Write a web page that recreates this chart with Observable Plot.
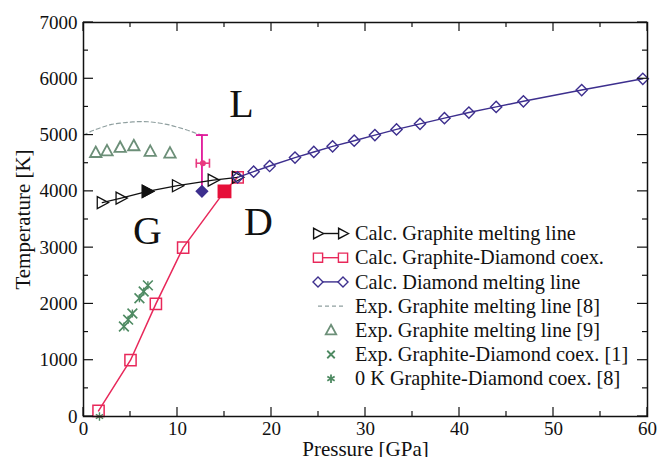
<!DOCTYPE html>
<html><head><meta charset="utf-8">
<script src="https://cdn.jsdelivr.net/npm/d3@7"></script>
<script src="https://cdn.jsdelivr.net/npm/@observablehq/plot@0.6"></script>
<style>
html,body{margin:0;padding:0;background:#fff;}
#wrap{position:relative;width:668px;height:457px;}
#wrap svg{display:block;}
#legend{position:absolute;left:0;top:0;pointer-events:none;}
</style></head><body><div id="wrap"></div>
<script>
// ---- data ----
const graphiteP = [2.0, 4.0, 6.8, 10.0, 13.8, 16.4];
const graphiteT = [3800, 3880, 4000, 4100, 4200, 4250];
const graphiteFilledP = [6.8];
const graphiteFilledT = [4000];

const coexP = [1.6, 5.0, 7.7, 10.6, 15.0, 16.4];
const coexT = [100, 1000, 2000, 3000, 4000, 4250];
const coexFilledP = [15.0];
const coexFilledT = [4000];

const diamondP = [16.4, 18.1, 19.8, 22.5, 24.5, 26.5, 28.8, 31.0, 33.3, 35.8, 38.4, 41.0, 43.9, 46.8, 53.0, 59.5];
const diamondT = [4250, 4350, 4450, 4600, 4700, 4800, 4900, 5000, 5100, 5200, 5300, 5400, 5500, 5600, 5800, 6000];
const diamondFilledP = [12.6];
const diamondFilledT = [4000];
const diamondErrLo = [3900];
const diamondErrHi = [5000];

const expMelt8P = [0, 1, 2, 3, 4, 5, 6, 7, 8, 9, 10, 11, 12, 12.6];
const expMelt8T = [5000, 5080, 5140, 5190, 5215, 5230, 5240, 5235, 5215, 5185, 5140, 5090, 5030, 5000];

const expMelt9P = [1.3, 2.5, 3.9, 5.35, 7.1, 9.2];
const expMelt9T = [4690, 4720, 4780, 4810, 4710, 4680];

const expPointP = [12.7];
const expPointT = [4500];
const expPointPErr = [0.7];

const expCoex1P = [4.3, 4.75, 5.2, 5.95, 6.4, 6.85];
const expCoex1T = [1600, 1720, 1830, 2100, 2220, 2330];

const zeroKCoexP = [1.7];
const zeroKCoexT = [0];

const xTicks = [0, 10, 20, 30, 40, 50, 60];
const yTicks = [0, 1000, 2000, 3000, 4000, 5000, 6000, 7000];
const xMinor = [5, 15, 25, 35, 45, 55];
const yMinor = [500, 1500, 2500, 3500, 4500, 5500, 6500];

const xTitle = "Pressure [GPa]";
const yTitle = "Temperature [K]";

const regionNames = ["L", "G", "D"];
const regionP = [16.8, 6.8, 18.6];
const regionT = [5540, 3290, 3450];

const legendLabels = [
  "Calc. Graphite melting line",
  "Calc. Graphite-Diamond coex.",
  "Calc. Diamond melting line",
  "Exp. Graphite melting line [8]",
  "Exp. Graphite melting line [9]",
  "Exp. Graphite-Diamond coex. [1]",
  "0 K Graphite-Diamond coex. [8]"
];

// ---- styles ----
const C_BLACK = "#111";
const C_RED = "#e8285a";
const C_RED_FILL = "#e6103a";
const C_PURPLE = "#3d2f8e";
const C_DASH = "#90a0a0";
const C_TRI = "#6c8f78";
const C_GREEN = "#4e8a62";
const C_MAG = "#e0189a";
const C_PINK = "#e83a80";
const FONT = '"Liberation Serif", "Times New Roman", serif';

const rOf = s => Math.sqrt(s / Math.PI);
const triRight = {draw(c, s){const r = rOf(s); c.moveTo(r, 0); c.lineTo(-0.8*r, -0.95*r); c.lineTo(-0.8*r, 0.95*r); c.closePath();}};
const triUp = {draw(c, s){const r = rOf(s); c.moveTo(0, -r); c.lineTo(0.95*r, 0.75*r); c.lineTo(-0.95*r, 0.75*r); c.closePath();}};
const diamondSym = {draw(c, s){const r = rOf(s); c.moveTo(0, -r); c.lineTo(r, 0); c.lineTo(0, r); c.lineTo(-r, 0); c.closePath();}};
const squareSym = {draw(c, s){const r = rOf(s); c.moveTo(-r, -r); c.lineTo(r, -r); c.lineTo(r, r); c.lineTo(-r, r); c.closePath();}};
const hBar = {draw(c, s){const r = rOf(s); c.moveTo(-r, 0); c.lineTo(r, 0);}};
const vBar = {draw(c, s){const r = rOf(s); c.moveTo(0, -r); c.lineTo(0, r);}};

const rows = (P, T) => P.map((p, i) => ({p, t: T[i]}));
const graphite = rows(graphiteP, graphiteT);
const coex = rows(coexP, coexT);
const diamond = rows(diamondP, diamondT);
const melt8 = rows(expMelt8P, expMelt8T);
const melt9 = rows(expMelt9P, expMelt9T);
const coex1 = rows(expCoex1P, expCoex1T);
const zeroK = rows(zeroKCoexP, zeroKCoexT);
const expPt = expPointP.map((p, i) => ({p, t: expPointT[i], lo: p - expPointPErr[i], hi: p + expPointPErr[i]}));
const simPt = diamondFilledP.map((p, i) => ({p, t: diamondFilledT[i], lo: diamondErrLo[i], hi: diamondErrHi[i]}));

// inward frame ticks using the plot's scales
function frameTicks(index, scales, values, dims) {
  const {x, y} = scales;
  const g = d3.create("svg:g").attr("stroke", C_BLACK).attr("stroke-width", 1.2);
  const xl = dims.marginLeft, xr = dims.width - dims.marginRight;
  const yt = dims.marginTop, yb = dims.height - dims.marginBottom;
  const add = (x1, y1, x2, y2) => g.append("line").attr("x1", x1).attr("y1", y1).attr("x2", x2).attr("y2", y2);
  for (const [list, len] of [[xTicks, 9], [xMinor, 5]]) for (const v of list) {
    const px = x(v); add(px, yb, px, yb - len); add(px, yt, px, yt + len);
  }
  for (const [list, len] of [[yTicks, 10], [yMinor, 5]]) for (const v of list) {
    const py = y(v); add(xl, py, xl + len, py); add(xr, py, xr - len, py);
  }
  return g.node();
}

const chart = Plot.plot({
  width: 668, height: 457,
  marginLeft: 83, marginRight: 21, marginTop: 22, marginBottom: 41,
  style: {fontFamily: FONT, fontSize: "19px", color: C_BLACK, background: "white"},
  x: {domain: [0, 60]},
  y: {domain: [0, 7000]},
  marks: [
    Plot.axisX({ticks: xTicks, tickSize: 0, tickPadding: 5, tickFormat: d => String(d), label: null}),
    Plot.axisY({ticks: yTicks, tickSize: 0, tickPadding: 6, tickFormat: d => String(d), label: null}),
    Plot.text([xTitle], {frameAnchor: "bottom", lineAnchor: "middle", dy: 33, text: d => d, fontSize: 21, fontFamily: FONT, fill: C_BLACK}),
    Plot.text([yTitle], {frameAnchor: "left", lineAnchor: "middle", textAnchor: "middle", dx: -60, rotate: -90, text: d => d, fontSize: 21, fontFamily: FONT, fill: C_BLACK}),
    // experimental dashed melting line
    Plot.line(melt8, {x: "p", y: "t", stroke: C_DASH, strokeWidth: 1.2, strokeDasharray: "4,3", curve: "catmull-rom"}),
    Plot.dot(melt9, {x: "p", y: "t", symbol: triUp, r: 6, stroke: C_TRI, strokeWidth: 1.8, fill: "none"}),
    Plot.dot(coex1, {x: "p", y: "t", symbol: "times", r: 4.5, stroke: C_GREEN, strokeWidth: 1.6}),
    Plot.dot(coex1, {x: "p", y: "t", symbol: vBar, r: 4, stroke: C_GREEN, strokeWidth: 1.4}),
    Plot.dot(zeroK, {x: "p", y: "t", symbol: "asterisk", r: 4, stroke: C_GREEN, strokeWidth: 1.4}),
    // error bars
    Plot.ruleX(simPt, {x: "p", y1: "lo", y2: "hi", stroke: C_MAG, strokeWidth: 1.8}),
    Plot.dot(simPt, {x: "p", y: "hi", symbol: hBar, r: 6, stroke: C_MAG, strokeWidth: 1.8}),
    Plot.ruleY(expPt, {y: "t", x1: "lo", x2: "hi", stroke: C_PINK, strokeWidth: 1.6}),
    Plot.dot(expPt, {x: "lo", y: "t", symbol: vBar, r: 4.5, stroke: C_PINK, strokeWidth: 1.6}),
    Plot.dot(expPt, {x: "hi", y: "t", symbol: vBar, r: 4.5, stroke: C_PINK, strokeWidth: 1.6}),
    Plot.dot(expPt, {x: "p", y: "t", r: 3, fill: C_PINK}),
    // calc lines
    Plot.line(coex, {x: "p", y: "t", stroke: C_RED, strokeWidth: 1.5}),
    Plot.dot(coex, {x: "p", y: "t", symbol: squareSym, r: 5.6, stroke: C_RED, strokeWidth: 1.5, fill: "none"}),
    Plot.dot(rows(coexFilledP, coexFilledT), {x: "p", y: "t", symbol: squareSym, r: 6.2, fill: C_RED_FILL, stroke: C_RED_FILL}),
    Plot.line(graphite, {x: "p", y: "t", stroke: C_BLACK, strokeWidth: 1.3}),
    Plot.dot(graphite, {x: "p", y: "t", symbol: triRight, r: 6.3, stroke: C_BLACK, strokeWidth: 1.3, fill: "none"}),
    Plot.dot(rows(graphiteFilledP, graphiteFilledT), {x: "p", y: "t", symbol: triRight, r: 6.3, fill: C_BLACK, stroke: C_BLACK}),
    Plot.line(diamond, {x: "p", y: "t", stroke: C_PURPLE, strokeWidth: 1.4}),
    Plot.dot(diamond, {x: "p", y: "t", symbol: diamondSym, r: 5.6, stroke: C_PURPLE, strokeWidth: 1.4, fill: "none"}),
    Plot.dot(simPt, {x: "p", y: "t", symbol: diamondSym, r: 5.6, fill: C_PURPLE, stroke: C_PURPLE}),
    // region labels
    Plot.text(regionNames, {x: (d, i) => regionP[i], y: (d, i) => regionT[i], text: d => d, fontSize: 40, fontFamily: FONT, fill: C_BLACK}),
    Plot.frame({stroke: C_BLACK, strokeWidth: 1.5}),
    frameTicks
  ]
});

const wrap = document.getElementById("wrap");
wrap.appendChild(chart);

// legend overlay
const leg = d3.select(wrap).append("svg").attr("id", "legend").attr("width", 668).attr("height", 457);
const rowY0 = 233.5, rowDY = 24.2, textX = 355, s0 = 318, s1 = 343, sMid = 331;
const sym = (type, r) => d3.symbol(type, Math.PI * r * r)();
legendLabels.forEach((lab, i) => {
  const y = rowY0 + i * rowDY;
  const g = leg.append("g");
  if (i < 3) {
    const col = [C_BLACK, C_RED, C_PURPLE][i];
    const type = [triRight, squareSym, diamondSym][i];
    const r = [5.5, 4.6, 5][i];
    g.append("line").attr("x1", s0).attr("x2", s1).attr("y1", y).attr("y2", y).attr("stroke", col).attr("stroke-width", 1.4);
    for (const sx of [s0, s1]) g.append("path").attr("d", sym(type, r)).attr("transform", `translate(${sx},${y})`).attr("fill", "white").attr("stroke", col).attr("stroke-width", 1.4);
  } else if (i === 3) {
    g.append("line").attr("x1", s0).attr("x2", s1 + 2).attr("y1", y).attr("y2", y).attr("stroke", C_DASH).attr("stroke-width", 1.2).attr("stroke-dasharray", "4,3");
  } else {
    const type = [triUp, d3.symbolTimes, d3.symbolAsterisk][i - 4];
    const col = [C_TRI, C_GREEN, C_GREEN][i - 4];
    const r = [5.5, 3.5, 4][i - 4];
    g.append("path").attr("d", sym(type, r)).attr("transform", `translate(${sMid},${y})`).attr("fill", "none").attr("stroke", col).attr("stroke-width", 1.8);
  }
  g.append("text").attr("x", textX).attr("y", y).attr("dy", "0.33em").attr("font-family", FONT).attr("font-size", 20.3).attr("fill", C_BLACK).text(lab);
});
</script></body></html>
